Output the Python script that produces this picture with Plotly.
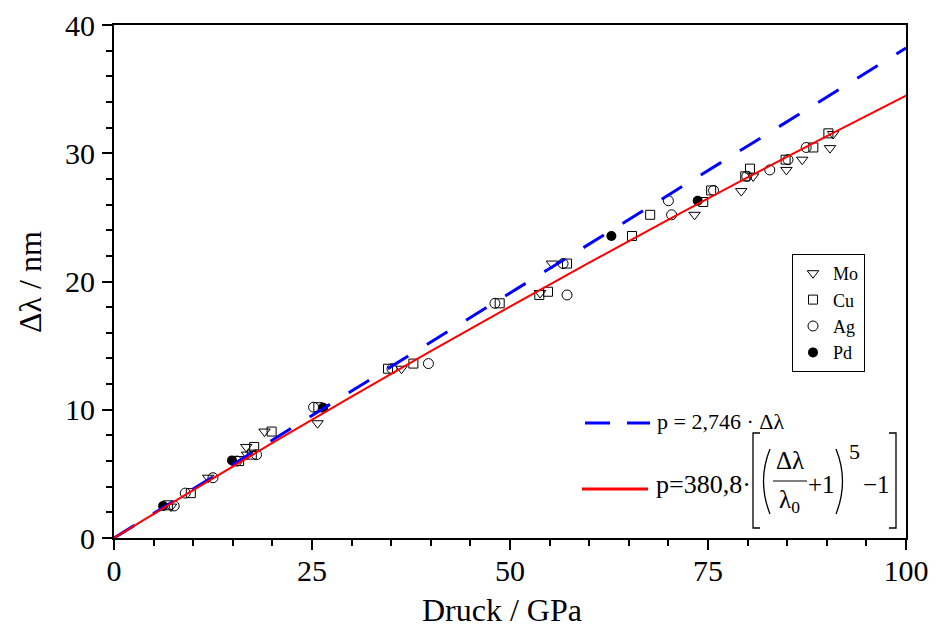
import plotly.graph_objects as go

# ---- data ----
mo_p = [7.2, 11.9, 16.7, 16.8, 19.0, 25.7, 36.3, 53.8, 55.3, 73.3, 79.2, 80.7, 84.9, 86.9, 90.4, 90.8]
mo_d = [2.45, 4.7, 7.1, 6.5, 8.3, 8.95, 13.2, 19.1, 21.4, 25.2, 27.05, 28.2, 28.7, 29.5, 30.4, 31.5]

cu_p = [6.8, 9.7, 15.8, 17.7, 17.4, 19.9, 25.8, 34.6, 37.8, 48.7, 53.7, 54.8, 57.2, 65.4, 67.7, 74.4, 75.4, 79.7, 80.3, 84.8, 88.3, 90.2]
cu_d = [2.55, 3.5, 6.0, 7.1, 6.5, 8.3, 10.2, 13.2, 13.6, 18.3, 18.95, 19.2, 21.4, 23.55, 25.2, 26.2, 27.1, 28.2, 28.8, 29.5, 30.45, 31.55]

ag_p = [7.6, 9.0, 12.5, 15.5, 18.0, 25.2, 35.1, 39.7, 48.1, 56.7, 57.2, 70.0, 70.4, 75.7, 79.9, 82.8, 85.1, 87.4]
ag_d = [2.5, 3.5, 4.7, 6.0, 6.5, 10.2, 13.2, 13.6, 18.3, 21.4, 18.95, 26.3, 25.2, 27.1, 28.2, 28.7, 29.5, 30.45]

pd_p = [6.2, 14.9, 26.4, 62.8, 73.7]
pd_d = [2.5, 6.05, 10.15, 23.55, 26.3]

lin_p = [0, 100]
lin_d = [0, 38.2]

nl_p = [0, 10, 20, 30, 40, 50, 60, 70, 80, 90, 100]
nl_d = [0, 3.74, 7.41, 11.02, 14.57, 18.05, 21.47, 24.82, 28.11, 31.34, 34.5]

FONT = "Liberation Serif"

# plot area in pixels
L, R, T, B = 114, 906, 25, 538
W, H = 936, 634


def px(x):
    return (x - L) / (R - L)


def py(y):
    return (B - y) / (B - T)


fig = go.Figure()

mk_line = dict(color="black", width=1)
fig.add_trace(go.Scatter(x=mo_p, y=mo_d, mode="markers", name="Mo",
                         marker=dict(symbol="triangle-down-open", size=10, color="black", line=mk_line)))
fig.add_trace(go.Scatter(x=cu_p, y=cu_d, mode="markers", name="Cu",
                         marker=dict(symbol="square-open", size=9, color="black", line=mk_line)))
fig.add_trace(go.Scatter(x=ag_p, y=ag_d, mode="markers", name="Ag",
                         marker=dict(symbol="circle-open", size=10, color="black", line=mk_line)))
fig.add_trace(go.Scatter(x=pd_p, y=pd_d, mode="markers", name="Pd",
                         marker=dict(symbol="circle", size=10, color="black")))
fig.add_trace(go.Scatter(x=lin_p, y=lin_d, mode="lines", showlegend=False,
                         line=dict(color="#0000ff", width=3, dash="24px,22px")))
fig.add_trace(go.Scatter(x=nl_p, y=nl_d, mode="lines", showlegend=False,
                         line=dict(color="#ff0000", width=2, shape="spline")))

axis_common = dict(
    showline=True, linewidth=2, linecolor="black", mirror=True,
    ticks="outside", ticklen=10, tickwidth=2, tickcolor="black",
    showgrid=False, zeroline=False, automargin=False,
    tickfont=dict(family=FONT, size=30, color="black"),
)

fig.update_xaxes(range=[0, 100], tick0=0, dtick=25, ticklabelstandoff=-5,
                 minor=dict(dtick=5, ticks="outside", ticklen=6, tickwidth=1.5, tickcolor="black", showgrid=False),
                 **axis_common)
fig.update_yaxes(range=[0, 40], tick0=0, dtick=10, ticklabelstandoff=1,
                 minor=dict(dtick=2, ticks="outside", ticklen=6, tickwidth=1.5, tickcolor="black", showgrid=False),
                 **axis_common)

ann = []
# axis titles
ann.append(dict(text="Druck / GPa", x=px(502), y=py(610), xref="paper", yref="paper",
                showarrow=False, xanchor="center", yanchor="middle",
                font=dict(family=FONT, size=32, color="black")))
ann.append(dict(text="Δλ / nm", x=px(30), y=py(282), xref="paper", yref="paper",
                showarrow=False, xanchor="center", yanchor="middle", textangle=-90,
                font=dict(family=FONT, size=32, color="black")))


def txt(s, x, y, size=22, xa="left"):
    ann.append(dict(text=s, x=px(x), y=py(y), xref="paper", yref="paper", showarrow=False,
                    xanchor=xa, yanchor="middle", font=dict(family=FONT, size=size, color="black")))


txt("p = 2,746 · Δλ", 655, 421, size=22)
txt("p=380,8·", 654, 484, size=26)
txt("Δλ", 790, 460, size=25, xa="center")
txt("λ<sub>0</sub>", 789, 501, size=25, xa="center")
txt("+1", 821, 484, size=25, xa="center")
txt("5", 854, 451, size=22, xa="center")
txt("−1", 876, 484, size=25, xa="center")

shapes = []


def path(d, w=1.3, color="black"):
    shapes.append(dict(type="path", path=d, xref="paper", yref="paper", line=dict(color=color, width=w)))


def P(x, y):
    return f"{px(x):.5f},{py(y):.5f}"


# legend samples of the fitted lines
shapes.append(dict(type="line", xref="paper", yref="paper", x0=px(585), x1=px(650), y0=py(423), y1=py(423),
                   line=dict(color="#0000ff", width=3, dash="25px,17px")))
shapes.append(dict(type="line", xref="paper", yref="paper", x0=px(582), x1=px(648), y0=py(489), y1=py(489),
                   line=dict(color="#ff0000", width=3)))
# brackets
path(f"M {P(760,433)} L {P(753,433)} L {P(753,528)} L {P(760,528)}")
path(f"M {P(889,433)} L {P(896,433)} L {P(896,528)} L {P(889,528)}")
# parentheses
path(f"M {P(770,449)} Q {P(757,481)} {P(770,514)}")
path(f"M {P(836,449)} Q {P(849,481)} {P(836,514)}")
# fraction bar
path(f"M {P(773,481)} L {P(807,481)}", w=1.2)

fig.update_layout(
    width=W, height=H,
    margin=dict(l=L, r=W - R, t=T, b=H - B, autoexpand=False),
    paper_bgcolor="white", plot_bgcolor="white",
    annotations=ann, shapes=shapes,
    legend=dict(x=px(792), y=py(254), xanchor="left", yanchor="top",
                bgcolor="white", bordercolor="black", borderwidth=1,
                font=dict(family=FONT, size=18, color="black"),
                tracegroupgap=0, itemwidth=30),
    showlegend=True,
)

fig.write_html("out.html")
